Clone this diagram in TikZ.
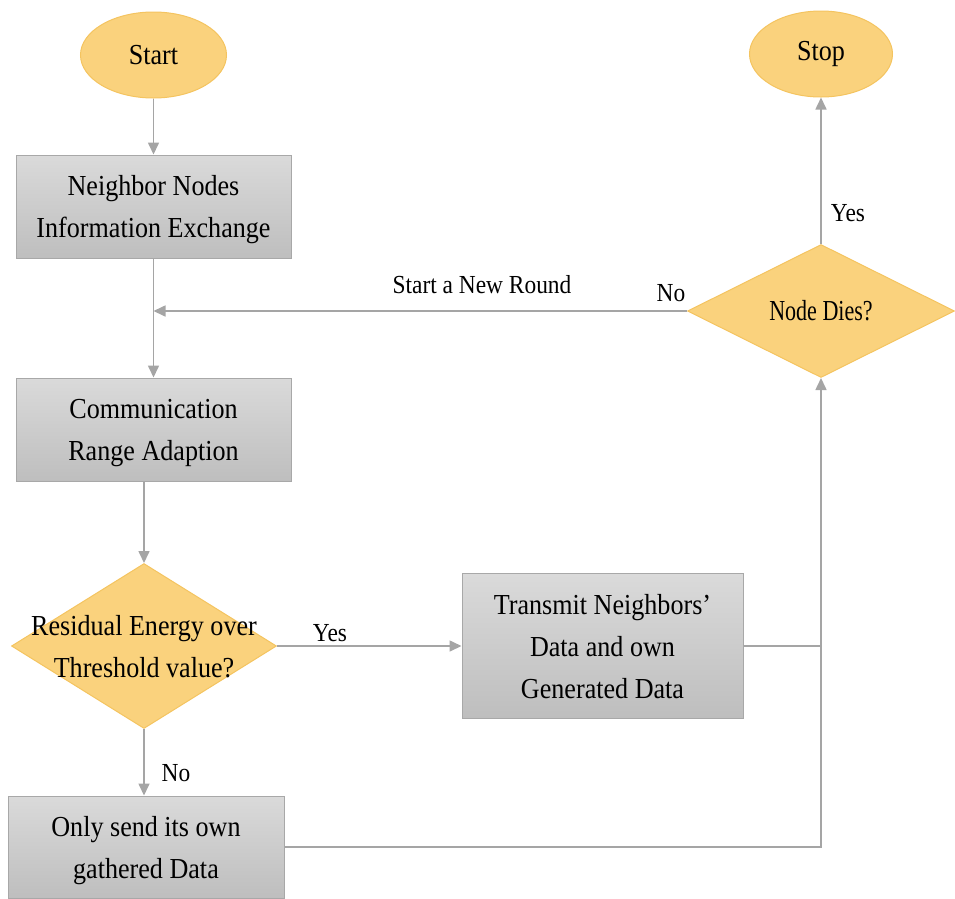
\documentclass[tikz,border=0pt]{standalone}
\usepackage{fontspec}
\setmainfont[FakeStretch=0.9]{Liberation Serif}
\newfontfamily\narrowserif[FakeStretch=0.76]{Liberation Serif}
\usetikzlibrary{shapes.geometric,arrows.meta}

\definecolor{termfill}{RGB}{250,210,125}
\definecolor{termline}{RGB}{244,196,96}
\definecolor{boxtop}{RGB}{218,218,218}
\definecolor{boxbot}{RGB}{190,190,190}
\definecolor{boxline}{RGB}{168,168,168}
\definecolor{flow}{RGB}{165,165,165}

\begin{document}
\begin{tikzpicture}[x=1pt,y=-1pt,
  every node/.style={font=\fontsize{29}{42}\selectfont, text=black},
  terminal/.style={ellipse, fill=termfill, draw=termline, line width=1pt,
    minimum width=146pt, minimum height=86pt, inner sep=0pt},
  process/.style={rectangle, top color=boxtop, bottom color=boxbot,
    draw=boxline, line width=1pt, align=center, inner sep=0pt, text depth=0pt},
  decision/.style={diamond, fill=termfill, draw=termline, line width=1pt,
    inner sep=0pt},
  flowline/.style={draw=flow, line width=1.6pt},
  flowarrow/.style={flowline, -{Triangle[length=12pt,width=11pt]}},
  lab/.style={font=\fontsize{26}{30}\selectfont}
]
\useasboundingbox (0,0) rectangle (955,898);

% terminals
\node[terminal] (start) at (153.5,55) {Start};
\node[terminal, minimum width=143pt] (stop) at (821,54) {Stop};

% process boxes
\node[process, minimum width=275pt, minimum height=103pt] (nn) at (153.5,206.5)
  {Neighbor Nodes\\Information Exchange};
\node[process, minimum width=275pt, minimum height=103pt] (comm) at (153.5,429.5)
  {Communication\\Range Adaption};
\node[process, minimum width=281pt, minimum height=145pt] (tx) at (602.5,646)
  {Transmit Neighbors’\\Data and own\\Generated Data};
\node[process, minimum width=276pt, minimum height=102pt] (only) at (146,847)
  {Only send its own\\gathered Data};

% decisions
\node[decision, minimum width=265pt, minimum height=165pt] (res) at (144,646) {};
\node[align=center, text depth=0pt] (restext) at (res.center)
  {Residual Energy over\\Threshold value?};
\node[decision, minimum width=267pt, minimum height=133pt] (dies) at (821,311) {};
\node[font=\narrowserif\fontsize{29}{34}\selectfont] (diestext) at (dies.center) {Node Dies?};

% connectors
\draw[flowarrow] (start.south) -- (nn.north);
\draw[flowarrow] (nn.south) -- (comm.north);
\coordinate (merge) at (nn.south |- dies.west);
\draw[flowarrow] (dies.west) -- (merge);
\draw[flowarrow] (res.north |- comm.south) -- (res.north);
\draw[flowarrow] (res.east) -- (tx.west);
\draw[flowarrow] (res.south) -- (res.south |- only.north);
\draw[flowline] (tx.east) -- (dies.south |- tx.east);
\draw[flowarrow] (only.east) -- (dies.south |- only.east) -- (dies.south);
\draw[flowarrow] (dies.north) -- (stop.south);

% branch labels
\node[lab] (newround) at (482,285) {Start a New Round};
\node[lab] (nodies) at (671,293) {No};
\node[lab] (yesdies) at (848,213) {Yes};
\node[lab] (yesres) at (330,633) {Yes};
\node[lab] (nores) at (176,773) {No};
\end{tikzpicture}
\end{document}
